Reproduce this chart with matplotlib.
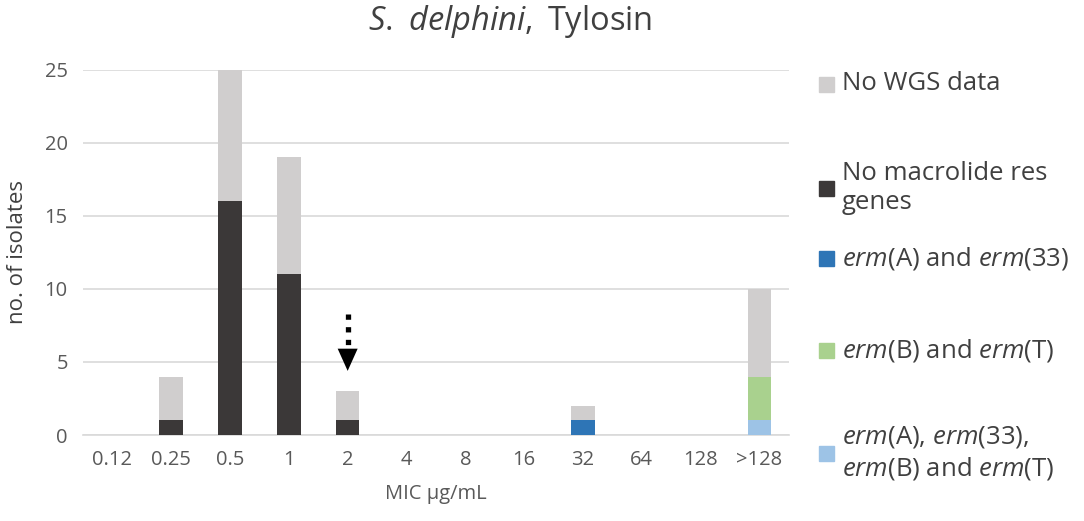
import numpy as np
import matplotlib.pyplot as plt
from matplotlib.patches import Rectangle

plt.rcParams['font.family'] = ['Open Sans', 'DejaVu Sans']
plt.rcParams['mathtext.fontset'] = 'custom'
plt.rcParams['mathtext.rm'] = 'Open Sans'
plt.rcParams['mathtext.it'] = 'Open Sans:italic'

# data
mic = ["0.12", "0.25", "0.5", "1", "2", "4", "8", "16", "32", "64", "128", ">128"]
all_four = [0, 0, 0, 0, 0, 0, 0, 0, 0, 0, 0, 1]
ermB_T = [0, 0, 0, 0, 0, 0, 0, 0, 0, 0, 0, 3]
ermA_33 = [0, 0, 0, 0, 0, 0, 0, 0, 1, 0, 0, 0]
no_macro = [0, 1, 16, 11, 1, 0, 0, 0, 0, 0, 0, 0]
no_wgs = [0, 3, 9, 8, 2, 0, 0, 0, 1, 0, 0, 6]

series = [
    (all_four, "#9DC3E6", "$\\mathit{erm}$(A), $\\mathit{erm}$(33),\n$\\mathit{erm}$(B) and $\\mathit{erm}$(T)"),
    (ermB_T, "#A9D18E", "$\\mathit{erm}$(B) and $\\mathit{erm}$(T)"),
    (ermA_33, "#2E75B6", "$\\mathit{erm}$(A) and $\\mathit{erm}$(33)"),
    (no_macro, "#3B3838", "No macrolide res\ngenes"),
    (no_wgs, "#D0CECE", "No WGS data"),
]

fig = plt.figure(figsize=(10.84, 5.21), dpi=100)
ax = fig.add_axes([0.0766, 0.165, 0.651, 0.701])

x = np.arange(len(mic))
bottom = np.zeros(len(mic))
for vals, col, lab in series:
    ax.bar(x, vals, 0.4, bottom=bottom, color=col, linewidth=0, zorder=3)
    bottom += np.array(vals)

ax.set_xlim(-0.5, len(mic) - 0.5)
ax.set_ylim(0, 25)
ax.set_yticks(range(0, 26, 5))
ax.set_xticks(x)
ax.set_xticklabels(mic)
ax.yaxis.grid(True, color="#D9D9D9", linewidth=1.2, zorder=0)
for s in ["top", "right", "left"]:
    ax.spines[s].set_visible(False)
ax.spines["bottom"].set_color("#D9D9D9")
ax.spines["bottom"].set_linewidth(1.2)
ax.tick_params(length=0, labelsize=14.5, colors="#595959", pad=11)
ax.set_xlabel("MIC µg/mL", fontsize=14.5, color="#595959", labelpad=10)
ax.set_ylabel("no. of isolates", fontsize=16, color="#404040", labelpad=12)

fig.text(510 / 1084, 0.958, "$\\mathit{S.\\ delphini,}$ Tylosin", fontsize=23.5, color="#404040",
         ha="center", va="center")

# arrow marking 2 µg/mL
ax.plot([4, 4], [8.3, 5.5], color="black", linestyle=(0, (1, 1.4)), linewidth=3.8, zorder=4)
ax.annotate("", xy=(4, 4.2), xytext=(4, 5.8),
            arrowprops=dict(arrowstyle="-|>,head_width=0.45,head_length=1.0",
                            color="black", linewidth=0, mutation_scale=16), zorder=5)

# legend
leg_y = [84, 188, 258, 350, 453]
for (vals, col, lab), yy in zip(series[::-1], leg_y):
    fy = 1 - yy / 521
    fig.patches.append(Rectangle((819 / 1084, fy - 8 / 521), 15 / 1084, 15 / 521,
                                 transform=fig.transFigure, color=col))
    fig.text(842 / 1084, fy, lab, fontsize=18.5, color="#404040", va="center", ha="left",
             linespacing=1.25)

fig.savefig("out.png", dpi=100)
